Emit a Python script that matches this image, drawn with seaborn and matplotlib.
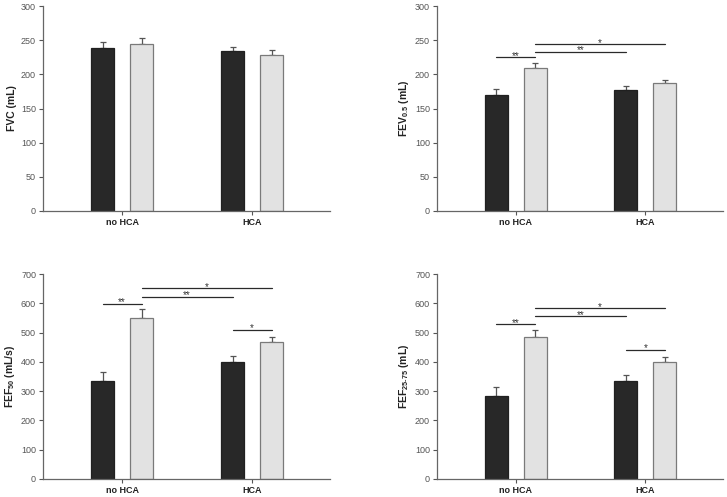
import matplotlib
matplotlib.use('Agg')
import matplotlib.pyplot as plt
import seaborn as sns
import pandas as pd

# groups on the x axis and the two bar series (dark / light)
GROUPS = ['no HCA', 'HCA']
SERIES = ['dark', 'light']

# means and upper error (SEM) per panel, order: [noHCA dark, noHCA light, HCA dark, HCA light]
FVC_MEAN = [238, 245, 234, 229]
FVC_ERR = [10, 8, 6, 6]
FEV_MEAN = [170, 209, 177, 187]
FEV_ERR = [9, 7, 6, 4]
FEF50_MEAN = [335, 551, 399, 469]
FEF50_ERR = [32, 28, 20, 17]
FEF2575_MEAN = [282, 484, 335, 399]
FEF2575_ERR = [31, 26, 19, 17]

# significance brackets: (from bar, to bar, y level, label); bar index as above
FEV_SIG = [(0, 1, 225, '**'), (1, 2, 233, '**'), (1, 3, 244, '*')]
FEF50_SIG = [(0, 1, 598, '**'), (1, 2, 622, '**'), (1, 3, 651, '*'), (2, 3, 509, '*')]
FEF2575_SIG = [(0, 1, 528, '**'), (1, 2, 555, '**'), (1, 3, 583, '*'), (2, 3, 442, '*')]

YLABELS = ['FVC (mL)', r'FEV$_{\mathbf{0.5}}$ (mL)',
           r'FEF$_{\mathbf{50}}$ (mL/s)', r'FEF$_{\mathbf{25\text{-}75}}$ (mL)']
YMAX = [300, 300, 700, 700]

COLORS = {'dark': '#282828', 'light': '#e2e2e2'}
EDGES = {'dark': '#202020', 'light': '#7a7a7a'}

sns.set_theme(style='white')
plt.rcParams['font.family'] = ['Liberation Sans', 'DejaVu Sans']
plt.rcParams['mathtext.fontset'] = 'custom'
plt.rcParams['mathtext.rm'] = 'Liberation Sans:bold'
plt.rcParams['mathtext.bf'] = 'Liberation Sans:bold'

fig = plt.figure(figsize=(7.27, 4.97), dpi=100)
W, H = 727, 497
boxes = [(43, 6, 330, 211), (437, 6, 723, 211), (43, 274, 330, 479), (437, 274, 723, 479)]

panels = [
    (FVC_MEAN, FVC_ERR, []),
    (FEV_MEAN, FEV_ERR, FEV_SIG),
    (FEF50_MEAN, FEF50_ERR, FEF50_SIG),
    (FEF2575_MEAN, FEF2575_ERR, FEF2575_SIG),
]


def make_df(means):
    rows = []
    i = 0
    for g in GROUPS:
        for s in SERIES:
            rows.append({'group': g, 'series': s, 'value': means[i]})
            i += 1
    return pd.DataFrame(rows)


for k, ((means, errs, sigs), (x0, y0, x1, y1)) in enumerate(zip(panels, boxes)):
    ax = fig.add_axes([x0 / W, 1 - y1 / H, (x1 - x0) / W, (y1 - y0) / H])
    df = make_df(means)
    sns.barplot(data=df, x='group', y='value', hue='series', order=GROUPS,
                hue_order=SERIES, palette=COLORS, width=0.6, gap=0.41,
                errorbar=None, legend=False, ax=ax)

    # bar centers in the same order as the data lists
    centers = {}
    for si, cont in enumerate(ax.containers):
        for gi, bar in enumerate(cont.patches):
            bar.set_edgecolor(EDGES[SERIES[si]])
            bar.set_linewidth(0.9)
            centers[gi * 2 + si] = bar.get_x() + bar.get_width() / 2

    xs = [centers[i] for i in range(4)]
    ax.errorbar(xs, means, yerr=[[0] * 4, errs], fmt='none', ecolor='#555555',
                elinewidth=0.9, capsize=2.5, capthick=0.9, zorder=1)
    for bar in ax.patches:
        bar.set_zorder(2)

    for a, b, yv, lab in sigs:
        ax.plot([centers[a], centers[b]], [yv, yv], color='#2a2a2a', lw=0.9)
        ax.annotate(lab, ((centers[a] + centers[b]) / 2, yv), xytext=(0, 1.2),
                    textcoords='offset points', ha='center', va='center',
                    fontsize=7, color='#333333')

    ax.set_xlim(-0.608, 1.6)
    ax.set_ylim(0, YMAX[k])
    ax.set_yticks(range(0, YMAX[k] + 1, 50 if YMAX[k] == 300 else 100))
    ax.set_xlabel('')
    ax.set_ylabel(YLABELS[k], fontsize=7.5, fontweight='bold', color='#222222', labelpad=3)
    ax.tick_params(axis='y', labelsize=6.5, colors='#555555', length=3, width=0.8,
                   direction='out', left=True, pad=2)
    ax.tick_params(axis='x', labelsize=6.5, length=3, width=0.8, color='#555555',
                   direction='out', bottom=True, pad=2)
    for lab in ax.get_xticklabels():
        lab.set_fontweight('bold')
        lab.set_color('#222222')
    for sp in ['top', 'right']:
        ax.spines[sp].set_visible(False)
    for sp in ['left', 'bottom']:
        ax.spines[sp].set_color('#666666')
        ax.spines[sp].set_linewidth(0.9)

fig.savefig('out.png', dpi=100)
